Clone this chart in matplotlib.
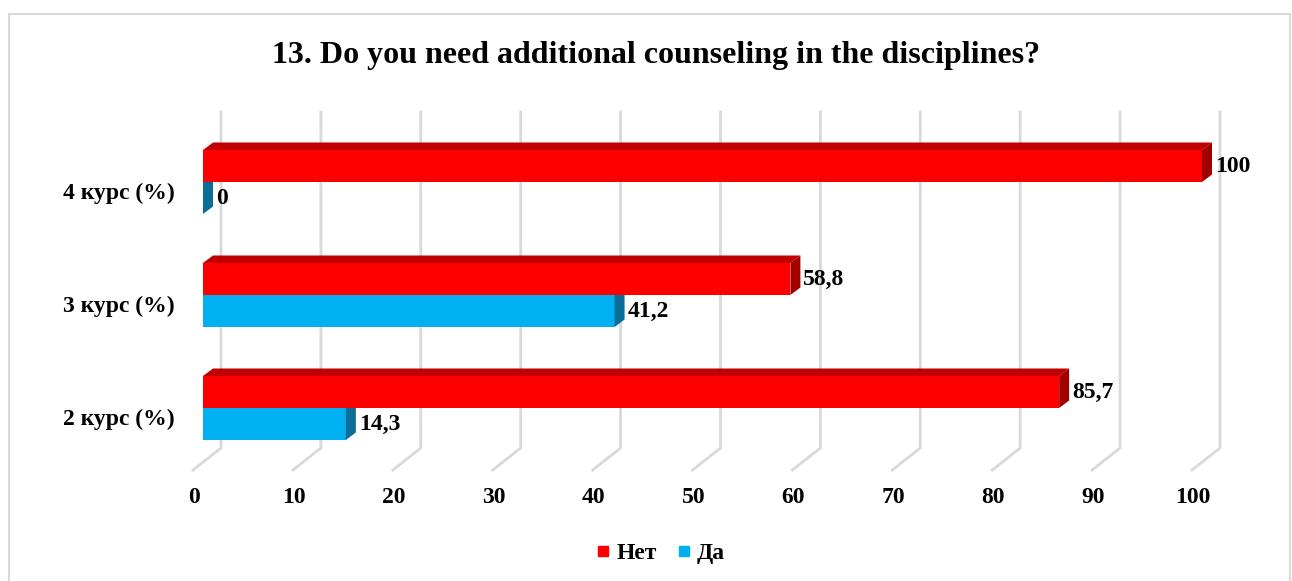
import matplotlib
matplotlib.use('Agg')
import matplotlib.pyplot as plt
from matplotlib.patches import Polygon, Rectangle
from matplotlib.lines import Line2D

plt.rcParams['font.family'] = ['Liberation Serif', 'DejaVu Serif']
plt.rcParams['font.weight'] = 'bold'

# data
categories = ['2 курс (%)', '3 курс (%)', '4 курс (%)']
net = [85.7, 58.8, 100]
da = [14.3, 41.2, 0]
series_names = ['Нет', 'Да']
x_ticks = list(range(0, 101, 10))
title = '13. Do you need additional counseling in the disciplines?'

# colours: front, top, side
red = ('#FF0000', '#C00000', '#A00000')
blue = ('#00B0F0', '#0088BB', '#0B6E99')
grid_col = '#D9D9D9'
fs = 17

W, H = 1292, 581
fig = plt.figure(figsize=(W / 100, H / 100), dpi=100)
ax = fig.add_axes([0, 0, 1, 1])

# pixel scale of the plot (x: value units, y: category units)
ppu_x, x0_px = 9.99, 203
ppu_y, y0_px = 113, 408
ax.set_xlim(-x0_px / ppu_x, (W - x0_px) / ppu_x)
ax.set_ylim((y0_px - H) / ppu_y, y0_px / ppu_y)
ax.axis('off')

bar_h = 32 / ppu_y
dx, dy = 1.0, 7.5 / ppu_y            # 3d depth of bars
back_dx = 1.8                         # back wall offset
floor_back, floor_front, grid_top = -0.354, -0.549, 2.62

# back wall + floor gridlines
for v in x_ticks:
    ax.plot([v - 1.0, v + back_dx, v + back_dx],
            [floor_front, floor_back, grid_top],
            color=grid_col, lw=2, zorder=1, solid_joinstyle='miter')
    ax.text(v - 0.9, -0.79, str(v), ha='center', va='center', fontsize=fs)


def fmt(v):
    return f'{v:g}'.replace('.', ',')


def bar3d(y, v, cols, z):
    ax.barh(y, v, height=bar_h, left=0, align='edge', color=cols[0],
            lw=0, zorder=z)
    top = y + bar_h
    ax.add_patch(Polygon([(0, top), (v, top), (v + dx, top + dy), (dx, top + dy)],
                         closed=True, fc=cols[1], lw=0, zorder=z))
    ax.add_patch(Polygon([(v, y), (v, top), (v + dx, top + dy), (v + dx, y + dy)],
                         closed=True, fc=cols[2], lw=0, zorder=z))


for i, cat in enumerate(categories):
    bar3d(i - bar_h, da[i], blue, 2)
    bar3d(i, net[i], red, 3)
    ax.text(da[i] + 1.3, i - bar_h / 2, fmt(da[i]), ha='left', va='center',
            fontsize=fs, zorder=5)
    ax.text(net[i] + 1.3, i + bar_h / 2, fmt(net[i]), ha='left', va='center',
            fontsize=fs, zorder=5)
    ax.text(-2.8, i - 0.1, cat, ha='right', va='center', fontsize=fs)

fig.text(656 / W, 1 - 56 / H, title, ha='center', va='center', fontsize=23)

handles = [Line2D([], [], ls='none', marker='s', ms=7, color=red[0]),
           Line2D([], [], ls='none', marker='s', ms=7, color=blue[0])]
ax.legend(handles, series_names, loc='center', bbox_to_anchor=(661 / W, 1 - 553 / H),
          ncol=2, frameon=False, fontsize=fs, handlelength=0.5,
          handletextpad=0.3, columnspacing=0.9)

fig.patches.append(Rectangle((9 / W, -0.01), (1290 - 9) / W, 1 - 14 / H + 0.01,
                             transform=fig.transFigure, fill=False,
                             ec=grid_col, lw=1.5))

fig.savefig('out.png', dpi=100)
